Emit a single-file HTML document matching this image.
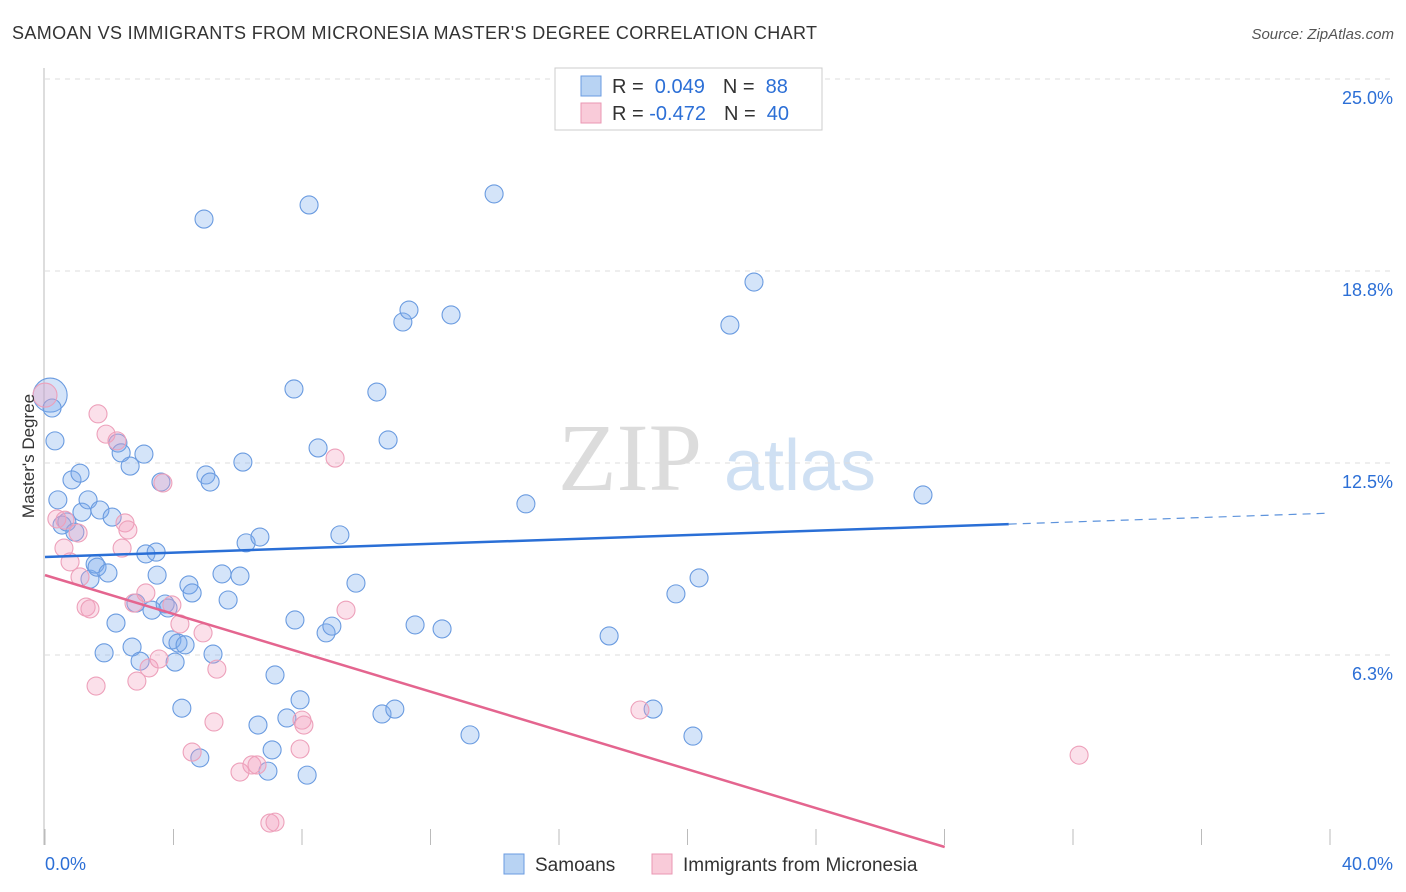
<!DOCTYPE html>
<html><head><meta charset="utf-8"><style>
body{margin:0;background:#fff;font-family:"Liberation Sans",sans-serif;}
svg{display:block}
</style></head><body>
<svg id="chart" width="1406" height="892" xmlns="http://www.w3.org/2000/svg">
<text x="12" y="39" font-size="18" fill="#333" textLength="805">SAMOAN VS IMMIGRANTS FROM MICRONESIA MASTER'S DEGREE CORRELATION CHART</text>
<text x="1394" y="39" font-size="15" fill="#555" font-style="italic" text-anchor="end">Source: ZipAtlas.com</text>
<text x="630" y="490" font-size="96" fill="#dcdcdc" font-family="Liberation Serif" text-anchor="middle">ZIP</text>
<text x="800" y="490" font-size="72" fill="#cfe0f3" text-anchor="middle">atlas</text>
<g id="grid"></g>
<g id="axes"></g>
<g id="pts"></g>
<g id="trend"></g>
<text transform="translate(34,456) rotate(-90)" font-size="17" fill="#333" text-anchor="middle">Master's Degree</text>
<g>
<rect x="555" y="68" width="267" height="62" fill="#fff" stroke="#ccc"/>
<rect x="581" y="76" width="20" height="20" fill="#b8d3f3" stroke="#6a9be0"/>
<rect x="581" y="103" width="20" height="20" fill="#f9cbd9" stroke="#ea97b3"/>
<text x="612" y="93" font-size="20" fill="#333">R = <tspan fill="#2c6fd6">&#160;0.049</tspan><tspan dx="18">N = </tspan><tspan fill="#2c6fd6">&#160;88</tspan></text>
<text x="612" y="120" font-size="20" fill="#333">R = <tspan fill="#2c6fd6">-0.472</tspan><tspan dx="18">N = </tspan><tspan fill="#2c6fd6">&#160;40</tspan></text>
</g>
<g>
<rect x="504" y="854" width="20" height="20" fill="#b8d3f3" stroke="#6a9be0"/>
<text x="535" y="871" font-size="19" fill="#333">Samoans</text>
<rect x="652" y="854" width="20" height="20" fill="#f9cbd9" stroke="#ea97b3"/>
<text x="683" y="871" font-size="19" fill="#333">Immigrants from Micronesia</text>
</g>
</svg>
<script>
const blueX=[0.16,0.22,0.31,0.40,0.53,0.68,0.84,1.09,0.93,1.15,1.34,1.40,1.56,1.71,1.62,1.84,1.96,2.09,2.21,2.27,2.37,2.65,2.83,3.08,2.71,2.96,3.14,3.33,3.46,3.49,3.61,3.74,3.83,3.95,4.05,4.14,4.26,4.36,4.48,4.58,4.82,4.95,5.01,5.14,5.23,5.51,5.70,6.07,6.16,6.26,6.63,6.69,6.94,7.07,7.16,7.53,7.75,7.78,7.94,8.16,8.22,8.50,8.75,8.93,9.18,9.68,10.33,10.49,10.68,10.89,11.14,11.33,11.52,12.36,12.64,13.23,13.98,14.97,17.56,18.93,19.64,20.17,20.36,21.32,22.07,27.33];
const blueY=[14.71,14.29,13.22,11.30,10.48,10.58,11.95,12.17,10.25,10.90,11.30,8.72,9.21,10.97,9.11,6.32,8.92,10.74,7.29,13.15,12.83,12.40,7.94,12.79,6.51,6.05,9.54,7.71,9.60,8.85,11.88,7.91,7.78,6.74,6.02,6.64,4.52,6.58,8.53,8.27,2.90,20.44,12.11,11.88,6.28,8.89,8.04,8.82,12.53,9.90,3.97,10.09,2.47,3.16,5.60,4.20,14.91,7.39,4.79,2.34,20.90,12.99,6.97,7.19,10.16,8.59,14.81,4.33,13.25,4.49,17.09,17.48,7.23,7.10,17.32,3.65,21.26,11.17,6.87,4.49,8.24,3.61,8.76,16.99,18.39,11.46];
const pinkX=[0.0,1.65,1.90,2.24,0.37,0.62,0.59,0.78,1.09,1.28,1.40,1.03,2.40,2.49,2.58,3.14,2.77,2.86,3.24,1.59,3.55,3.67,3.95,4.20,4.92,5.26,5.35,4.58,6.07,6.44,6.60,7.00,7.16,7.94,8.00,8.06,9.03,9.37,18.52,32.19];
const pinkY=[14.71,14.10,13.44,13.22,10.68,10.64,9.73,9.28,8.79,7.81,7.75,10.22,9.73,10.55,10.32,8.27,7.94,5.40,5.83,5.24,6.12,11.85,7.88,7.26,6.97,4.07,5.79,3.09,2.44,2.67,2.67,0.78,0.81,3.19,4.13,3.97,12.66,7.71,4.46,2.99];
const yTicks=[6.25,12.5,18.75,25];
const yTickLabels=["6.3%","12.5%","18.8%","25.0%"];
const xTicks=[0,4,8,12,16,20,24,28,32,36,40];
const blueTrend=[9.44,0.0357];
const pinkTrend=[8.85,-0.316];
const NS="http://www.w3.org/2000/svg";
const X=v=>45+v*32.125, Y=v=>847-v*30.72;
function mk(t,a,p){const e=document.createElementNS(NS,t);for(const k in a)e.setAttribute(k,a[k]);p.appendChild(e);return e;}
const grid=document.getElementById('grid'),axes=document.getElementById('axes'),pts=document.getElementById('pts'),tr=document.getElementById('trend');
yTicks.forEach((v,i)=>{
 const l=mk('line',{x1:45,x2:1394,y1:Y(v),y2:Y(v),stroke:'#ddd','stroke-dasharray':'5,5'},grid);
 
 
 const t=mk('text',{x:1393,y:Y(v)+25,'font-size':18,fill:'#2c6fd6','text-anchor':'end'},grid);
 t.textContent=yTickLabels[i];
 
 
});
const ya=mk('line',{x1:44,x2:44,y1:68,y2:845,stroke:'#bbb'},axes);


xTicks.forEach(v=>{
 const l=mk('line',{x1:X(v),x2:X(v),y1:829,y2:845,stroke:'#bbb'},axes);
 
 
});
const xl0=mk('text',{x:45,y:870,'font-size':18,fill:'#2c6fd6'},axes);xl0.textContent='0.0%';


const xl1=mk('text',{x:1393,y:870,'font-size':18,fill:'#2c6fd6','text-anchor':'end'},axes);xl1.textContent='40.0%';


blueX.forEach((x,i)=>{
 const c=mk('circle',{cx:X(x),cy:Y(blueY[i]),r:i===0?17:9,fill:'rgba(120,170,235,0.32)',stroke:'#6a9be0','stroke-width':1.1},pts);
 
 
});
pinkX.forEach((x,i)=>{
 const c=mk('circle',{cx:X(x),cy:Y(pinkY[i]),r:i===0?12:9,fill:'rgba(244,160,190,0.32)',stroke:'#eda0ba','stroke-width':1.1},pts);
 
 
});
const b1=mk('line',{x1:X(0),y1:Y(blueTrend[0]),x2:X(30),y2:Y(blueTrend[0]+30*blueTrend[1]),stroke:'#2a6fd6','stroke-width':2.5},tr);


const b2=mk('line',{x1:X(30),y1:Y(blueTrend[0]+30*blueTrend[1]),x2:X(40),y2:Y(blueTrend[0]+40*blueTrend[1]),stroke:'#5d93dc','stroke-width':1.2,'stroke-dasharray':'8,6'},tr);


const pEnd=-pinkTrend[0]/pinkTrend[1];
const p1=mk('line',{x1:X(0),y1:Y(pinkTrend[0]),x2:X(pEnd),y2:Y(0),stroke:'#e4658f','stroke-width':2.5},tr);


</script>
</body></html>
